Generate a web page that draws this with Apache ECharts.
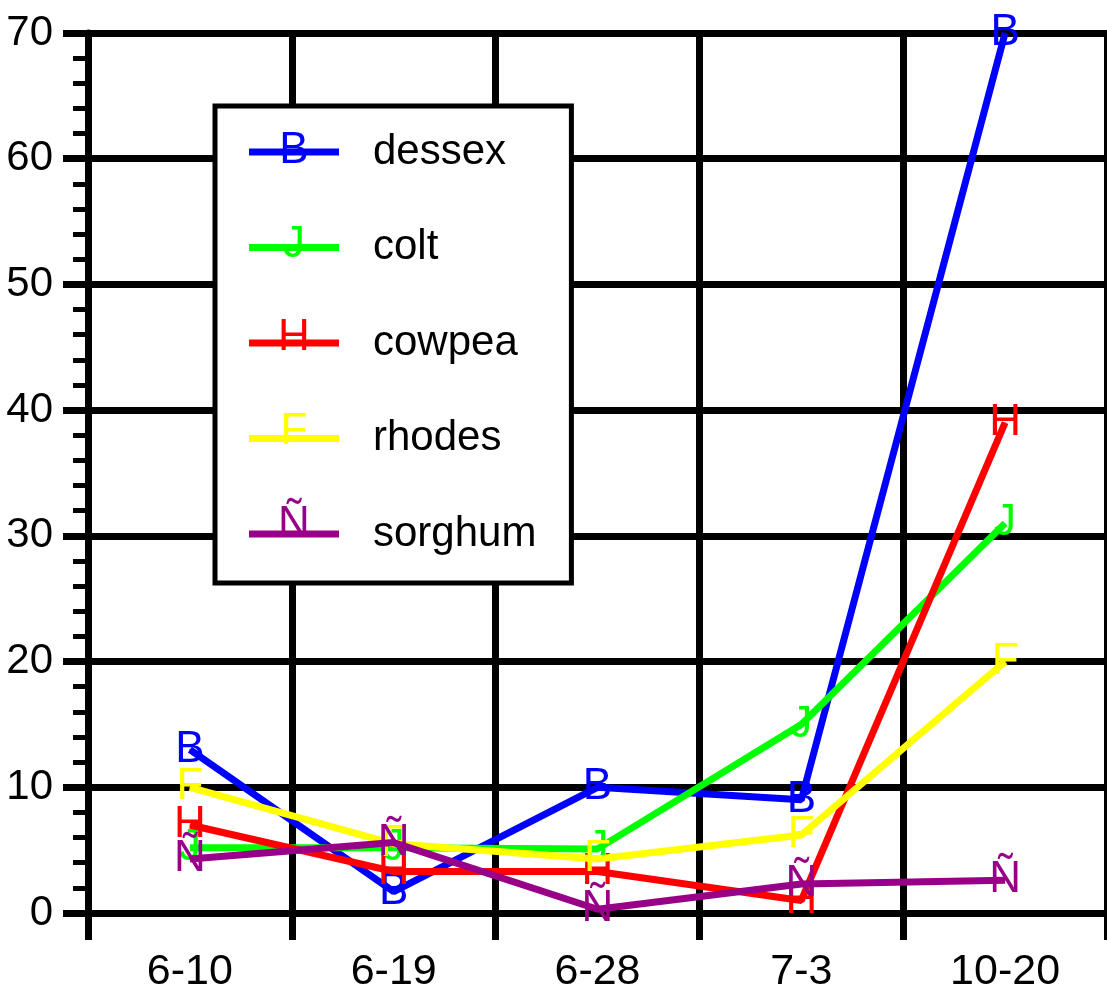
<!DOCTYPE html>
<html>
<head>
<meta charset="utf-8">
<script src="https://cdn.jsdelivr.net/npm/echarts@6/dist/echarts.min.js"></script>
<style>html,body{margin:0;padding:0;background:#fff;}#c{width:1107px;height:994px;}</style>
</head>
<body>
<div id="c"></div>
<script>
const categories = ['6-10', '6-19', '6-28', '7-3', '10-20'];
const seriesNames = ['dessex', 'colt', 'cowpea', 'rhodes', 'sorghum'];
const dessex = [13, 1.7, 10, 9, 70];
const colt = [5.2, 5.2, 5.1, 15, 31];
const cowpea = [7, 3.3, 3.3, 1, 39];
const rhodes = [10, 5.5, 4.3, 6.2, 20];
const sorghum = [4.3, 5.6, 0.3, 2.3, 2.6];
const glyphs = ['B', 'J', 'H', 'F', 'Ñ'];
const colors = ['#0000ff', '#00ff00', '#ff0000', '#ffff00', '#990088'];
const yTicks = [0, 10, 20, 30, 40, 50, 60, 70];

const values = [dessex, colt, cowpea, rhodes, sorghum];
const narrow = "'Liberation Sans Narrow', 'Liberation Sans', Arial, sans-serif";
const regular = "'Liberation Sans', Arial, sans-serif";

const LG = {left: 215, top: 106, pad: [25, 35, 28, 34], itemW: 90, rowH: 40, gap: 53.5};

const chart = echarts.init(document.getElementById('c'), null, {renderer: 'canvas'});

const series = seriesNames.map((name, i) => ({
  name: name,
  type: 'line',
  data: values[i],
  color: colors[i],
  symbol: 'circle',
  symbolSize: 1,
  showSymbol: true,
  lineStyle: {width: 7, color: colors[i]},
  itemStyle: {color: colors[i]},
  label: {
    show: true,
    position: 'inside',
    formatter: glyphs[i],
    color: colors[i],
    fontSize: 44,
    fontFamily: narrow
  },
  labelLayout: {hideOverlap: false},
  emphasis: {disabled: true},
  z: 3 + i
}));

const legendGlyphs = glyphs.map((g, i) => ({
  type: 'text',
  x: LG.left + LG.pad[3] + LG.itemW / 2,
  y: LG.top + LG.pad[0] + LG.rowH / 2 + i * (LG.rowH + LG.gap),
  z: 100,
  style: {
    text: g,
    fill: colors[i],
    font: "44px " + narrow,
    textAlign: 'center',
    textVerticalAlign: 'middle'
  }
}));

chart.setOption({
  animation: false,
  backgroundColor: '#ffffff',
  grid: {left: 88, top: 33, width: 1022, height: 880, containLabel: false},
  xAxis: {
    type: 'category',
    data: categories,
    boundaryGap: true,
    axisLine: {show: false},
    axisTick: {show: true, inside: false, length: 27, interval: 0, lineStyle: {color: '#000', width: 7}},
    splitLine: {show: true, interval: 0, lineStyle: {color: '#000', width: 7}},
    axisLabel: {show: true, interval: 0, margin: 38, fontSize: 43, color: '#000', fontFamily: regular}
  },
  yAxis: {
    type: 'value',
    min: yTicks[0],
    max: yTicks[yTicks.length - 1],
    interval: 10,
    axisLine: {show: true, lineStyle: {color: '#000', width: 7}},
    axisTick: {show: true, inside: false, length: 25, lineStyle: {color: '#000', width: 7}},
    minorTick: {show: true, splitNumber: 5, length: 15, lineStyle: {color: '#000', width: 5}},
    splitLine: {show: true, lineStyle: {color: '#000', width: 7}},
    axisLabel: {
      margin: 35, fontSize: 42, color: '#000', fontFamily: regular,
      verticalAlign: 'middle', padding: [0, 0, 12, 0]
    }
  },
  legend: {
    show: true,
    orient: 'vertical',
    left: LG.left,
    top: LG.top,
    padding: LG.pad,
    itemWidth: LG.itemW,
    itemHeight: 7,
    itemGap: LG.gap,
    icon: 'rect',
    align: 'left',
    backgroundColor: '#ffffff',
    borderColor: '#000000',
    borderWidth: 5,
    selectedMode: false,
    z: 50,
    textStyle: {
      fontSize: 42, color: '#000', fontFamily: regular,
      lineHeight: 40, padding: [0, 0, 0, 29]
    },
    data: seriesNames
  },
  graphic: legendGlyphs,
  series: series
});
</script>
</body>
</html>
